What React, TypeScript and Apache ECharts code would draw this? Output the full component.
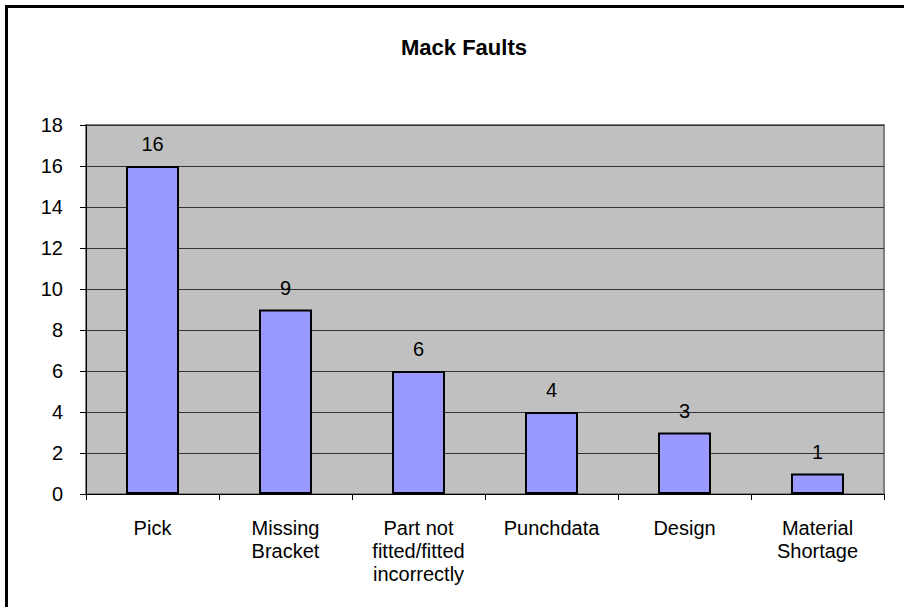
import React, { useEffect, useRef } from "react";
import * as echarts from "echarts";

const categories = [
  "Pick",
  "Missing\nBracket",
  "Part not\nfitted/fitted\nincorrectly",
  "Punchdata",
  "Design",
  "Material\nShortage",
];
const faultCounts = [16, 9, 6, 4, 3, 1];
const titleText = "Mack Faults";
const yMin = 0;
const yMax = 18;
const yStep = 2;

const FONT = "'Liberation Sans', Arial, Helvetica, sans-serif";

export default function App() {
  const ref = useRef<HTMLDivElement>(null);
  useEffect(() => {
    if (!ref.current) return;
    const chart = echarts.init(ref.current, null, { renderer: "svg" });
    chart.setOption({
      animation: false,
      backgroundColor: "#ffffff",
      title: {
        text: titleText,
        left: 459,
        top: 31,
        textAlign: "center",
        textStyle: { fontFamily: FONT, fontSize: 22, fontWeight: "bold", color: "#000" },
      },
      graphic: [
        {
          type: "rect",
          shape: { x: 6.5, y: 6.5, width: 1200, height: 1200 },
          style: { fill: "none", stroke: "#000", lineWidth: 3 },
          silent: true,
          z: 100,
        },
      ],
      grid: {
        left: 86,
        top: 125,
        right: 20,
        bottom: 113,
        show: true,
        backgroundColor: "#C0C0C0",
        borderColor: "#808080",
        borderWidth: 2,
      },
      xAxis: {
        type: "category",
        data: categories,
        axisLine: { show: true, lineStyle: { color: "#000", width: 1 } },
        axisTick: { show: true, length: 6, lineStyle: { color: "#000" } },
        axisLabel: {
          fontFamily: FONT,
          fontSize: 20,
          color: "#000",
          margin: 22,
          lineHeight: 23,
          interval: 0,
        },
      },
      yAxis: {
        type: "value",
        min: yMin,
        max: yMax,
        interval: yStep,
        axisLine: { show: true, lineStyle: { color: "#000", width: 1 } },
        axisTick: { show: true, length: 6, lineStyle: { color: "#000" } },
        axisLabel: { fontFamily: FONT, fontSize: 20, color: "#000", margin: 23 },
        splitLine: { show: true, lineStyle: { color: "#333", width: 1 } },
      },
      series: [
        {
          type: "bar",
          data: faultCounts,
          barWidth: 53,
          itemStyle: { color: "#9999FF", borderColor: "#000", borderWidth: 2 },
          label: {
            show: true,
            position: "top",
            distance: 12,
            fontFamily: FONT,
            fontSize: 20,
            color: "#000",
          },
        },
      ],
    });
    return () => chart.dispose();
  }, []);
  return (
    <div
      ref={ref}
      style={{ position: "fixed", left: 0, top: 0, width: 904, height: 607 }}
    />
  );
}
